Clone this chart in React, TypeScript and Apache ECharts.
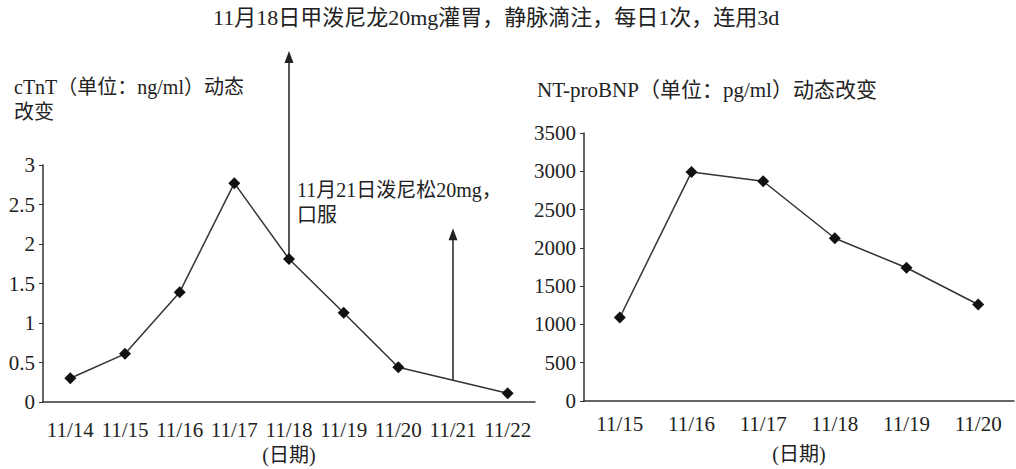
import React, { useEffect, useRef } from "react";
import * as echarts from "echarts";

const ctntDates = ["11/14", "11/15", "11/16", "11/17", "11/18", "11/19", "11/20", "11/21", "11/22"];
const ctntValues: (number | null)[] = [0.3, 0.61, 1.39, 2.77, 1.81, 1.13, 0.44, null, 0.11];
const ctntTicks = { min: 0, max: 3, interval: 0.5 };

const bnpDates = ["11/15", "11/16", "11/17", "11/18", "11/19", "11/20"];
const bnpValues = [1090, 2990, 2870, 2125, 1740, 1260];
const bnpTicks = { min: 0, max: 3500, interval: 500 };

// annotation anchors (value space)
const arrow18 = { date: "11/18", from: 1.81 };
const arrow21 = { date: "11/21", from: 0.28, to: 2.2 };

const FONT = "'Liberation Serif', 'Noto Sans CJK SC', serif";
const INK = "#222";

export default function App() {
  const ref = useRef<HTMLDivElement>(null);
  useEffect(() => {
    document.body.style.margin = "0";
    const chart = echarts.init(ref.current!, null, { renderer: "svg" });
    const axisLabel = { color: INK, fontFamily: FONT, fontSize: 21 };
    const axisLine = { lineStyle: { color: "#333", width: 1.5 } };
    const nameStyle = { color: INK, fontFamily: FONT, fontSize: 20 };
    chart.setOption({
      animation: false,
      backgroundColor: "#fff",
      textStyle: { fontFamily: FONT, color: INK },
      grid: [
        { left: 43, right: 481, top: 165, bottom: 67, outerBoundsMode: "none", containLabel: false },
        { left: 584, right: 2, top: 133, bottom: 68, outerBoundsMode: "none", containLabel: false },
      ],
      xAxis: [
        {
          gridIndex: 0,
          type: "category",
          data: ctntDates,
          axisLine,
          axisTick: { show: false },
          axisLabel: { ...axisLabel, interval: 0, margin: 17 },
          name: "(日期)",
          nameLocation: "middle",
          nameGap: 42,
          nameTextStyle: nameStyle,
        },
        {
          gridIndex: 1,
          type: "category",
          data: bnpDates,
          axisLine,
          axisTick: { show: false },
          axisLabel: { ...axisLabel, interval: 0, margin: 12 },
          name: "(日期)",
          nameLocation: "middle",
          nameGap: 43,
          nameTextStyle: nameStyle,
        },
      ],
      yAxis: [
        {
          gridIndex: 0,
          type: "value",
          ...ctntTicks,
          axisLine: { show: true, ...axisLine },
          axisTick: { show: true, length: 4, lineStyle: { color: "#333" } },
          splitLine: { show: false },
          axisLabel: { ...axisLabel, margin: 8 },
        },
        {
          gridIndex: 1,
          type: "value",
          ...bnpTicks,
          axisLine: { show: true, ...axisLine },
          axisTick: { show: true, length: 4, lineStyle: { color: "#333" } },
          splitLine: { show: false },
          axisLabel: { ...axisLabel, margin: 8, formatter: (v: number) => String(v) },
        },
      ],
      series: [
        {
          type: "line",
          xAxisIndex: 0,
          yAxisIndex: 0,
          data: ctntValues,
          connectNulls: true,
          symbol: "diamond",
          symbolSize: 12,
          itemStyle: { color: "#111" },
          lineStyle: { color: "#333", width: 1.5 },
        },
        {
          type: "line",
          xAxisIndex: 1,
          yAxisIndex: 1,
          data: bnpValues,
          symbol: "diamond",
          symbolSize: 12,
          itemStyle: { color: "#111" },
          lineStyle: { color: "#333", width: 1.5 },
        },
      ],
    });

    const p18 = chart.convertToPixel({ gridIndex: 0 }, [ctntDates.indexOf(arrow18.date), arrow18.from]) as number[];
    const p21a = chart.convertToPixel({ gridIndex: 0 }, [ctntDates.indexOf(arrow21.date), arrow21.from]) as number[];
    const p21b = chart.convertToPixel({ gridIndex: 0 }, [ctntDates.indexOf(arrow21.date), arrow21.to]) as number[];
    const top18 = 51;
    const arrowHead = (x: number, y: number) => ({
      type: "polygon",
      shape: { points: [[x, y], [x - 4.5, y + 12], [x + 4.5, y + 12]] },
      style: { fill: "#222" },
    });
    const txt = (x: number, y: number, text: string, size = 20) => ({
      type: "text",
      x,
      y,
      style: { text, fill: INK, font: `${size}px ${FONT}`, textVerticalAlign: "top", lineHeight: 25 },
    });

    chart.setOption({
      graphic: [
        { type: "line", shape: { x1: p18[0], y1: p18[1], x2: p18[0], y2: top18 + 6 }, style: { stroke: "#222", lineWidth: 1.5 } },
        arrowHead(p18[0], top18),
        { type: "line", shape: { x1: p21a[0], y1: p21a[1], x2: p21b[0], y2: p21b[1] + 6 }, style: { stroke: "#222", lineWidth: 1.5 } },
        arrowHead(p21b[0], p21b[1]),
        txt(213, 5, "11月18日甲泼尼龙20mg灌胃，静脉滴注，每日1次，连用3d", 22),
        txt(14, 74, "cTnT（单位：ng/ml）动态\n改变"),
        txt(537, 77, "NT-proBNP（单位：pg/ml）动态改变", 21),
        txt(297, 177, "11月21日泼尼松20mg，\n口服"),
      ],
    });
    return () => chart.dispose();
  }, []);
  return <div ref={ref} style={{ width: 1016, height: 469 }} />;
}
